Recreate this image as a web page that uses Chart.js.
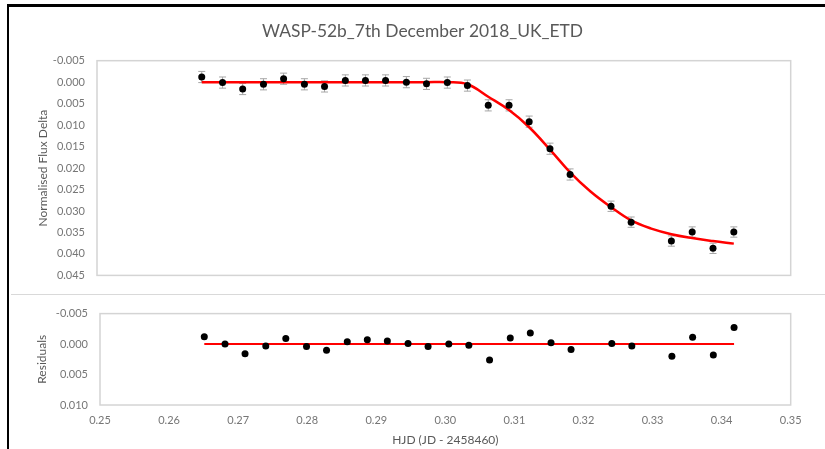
<!DOCTYPE html>
<html>
<head>
<meta charset="utf-8">
<script src="https://cdn.jsdelivr.net/npm/chart.js@4.4.1/dist/chart.umd.min.js"></script>
<style>
body { margin: 0; background: #fff; width: 825px; height: 449px; overflow: hidden; position: relative; }
.frameTop { position: absolute; left: 7px; top: 4px; width: 818px; height: 3px; background: #000; }
.frameLeft { position: absolute; left: 7px; top: 4px; width: 2px; height: 445px; background: #000; }
.split { position: absolute; left: 11px; top: 294px; width: 814px; height: 1px; background: #d9d9d9; }
#lightCurve { position: absolute; left: 15px; top: 8px; }
#residualPlot { position: absolute; left: 10px; top: 295px; }
</style>
</head>
<body>
<div class="frameTop"></div>
<div class="frameLeft"></div>
<div class="split"></div>
<canvas id="lightCurve" width="815" height="286"></canvas>
<canvas id="residualPlot" width="815" height="154"></canvas>
<script>
// observation times (HJD - 2458460)
const hjd = [0.2651, 0.2681, 0.2710, 0.2740, 0.2769, 0.2799, 0.2828, 0.2858, 0.2887, 0.2916,
             0.2946, 0.2975, 0.3005, 0.3034, 0.3064, 0.3094, 0.3123, 0.3153, 0.3182, 0.3241,
             0.3270, 0.3328, 0.3358, 0.3388, 0.3418];
// normalised flux delta + error
const flux = [-0.0012, 0.0001, 0.0016, 0.0005, -0.0008, 0.0005, 0.0010, -0.0004, -0.0004, -0.0004,
              0.0000, 0.0004, 0.0001, 0.0008, 0.0054, 0.0054, 0.0092, 0.0155, 0.0215, 0.0289,
              0.0326, 0.0370, 0.0349, 0.0387, 0.0349];
const fluxErr = [0.0013, 0.0013, 0.0013, 0.0013, 0.0013, 0.0013, 0.0013, 0.0013, 0.0013, 0.0013,
                 0.0013, 0.0013, 0.0013, 0.0013, 0.0013, 0.0013, 0.0013, 0.0013, 0.0013, 0.0012,
                 0.0012, 0.0012, 0.0012, 0.0012, 0.0012];
// fitted model
const modelHjd = [0.2651, 0.2681, 0.2710, 0.2740, 0.2769, 0.2799, 0.2828, 0.2858, 0.2887, 0.2916,
                  0.2946, 0.2975, 0.3005, 0.3034, 0.3064, 0.3094, 0.3123, 0.3153, 0.3182, 0.3211,
                  0.3241, 0.3270, 0.3299, 0.3328, 0.3358, 0.3388, 0.3418];
const modelFlux = [0, 0, 0, 0, 0, 0, 0, 0, 0, 0,
                   0, 0, 0.0000, 0.0005, 0.0034, 0.0065, 0.0105, 0.0157, 0.0210, 0.0254,
                   0.0291, 0.0322, 0.0341, 0.0354, 0.0363, 0.0370, 0.0376];
const residuals = [-0.0012, 0.0000, 0.0016, 0.0003, -0.0009, 0.0004, 0.0010, -0.0004, -0.0007, -0.0005,
                   -0.0001, 0.0004, 0.0000, 0.0002, 0.0026, -0.0010, -0.0018, -0.0002, 0.0009, -0.0001,
                   0.0003, 0.0020, -0.0011, 0.0018, -0.0027];

const hjdTicks = [0.25, 0.26, 0.27, 0.28, 0.29, 0.30, 0.31, 0.32, 0.33, 0.34, 0.35];
const fluxTicks = [-0.005, 0.000, 0.005, 0.010, 0.015, 0.020, 0.025, 0.030, 0.035, 0.040, 0.045];
const residualTicks = [-0.005, 0.000, 0.005, 0.010];

Chart.defaults.font.family = 'Lato, "Open Sans", sans-serif';
Chart.defaults.color = '#767676';
Chart.defaults.animation = false;

const frameBox = {
    id: 'frameBox',
    beforeDatasetsDraw(chart) {
        const { ctx, chartArea: a } = chart;
        ctx.save();
        ctx.strokeStyle = '#d4d4d4';
        ctx.lineWidth = 1.5;
        ctx.strokeRect(a.left, a.top, a.right - a.left, a.bottom - a.top);
        ctx.restore();
    }
};

// 오차막대: 각 점의 위/아래 오차를 회색 선 + 캡으로
const errorBars = {
    id: 'errorBars',
    beforeDatasetsDraw(chart) {
        const { ctx, scales: { x, y } } = chart;
        chart.data.datasets.forEach(ds => {
            if (!ds.errors) return;
            ctx.save();
            ctx.strokeStyle = '#a6a6a6';
            ctx.lineWidth = 1;
            ds.data.forEach((p, i) => {
                const px = x.getPixelForValue(p.x);
                const y1 = y.getPixelForValue(p.y - ds.errors[i]);
                const y2 = y.getPixelForValue(p.y + ds.errors[i]);
                ctx.beginPath();
                ctx.moveTo(px, y1); ctx.lineTo(px, y2);
                ctx.moveTo(px - 3.5, y1); ctx.lineTo(px + 3.5, y1);
                ctx.moveTo(px - 3.5, y2); ctx.lineTo(px + 3.5, y2);
                ctx.stroke();
            });
            ctx.restore();
        });
    }
};

const fixTicks = list => scale => { scale.ticks = list.map(v => ({ value: v })); };

new Chart(document.getElementById('lightCurve').getContext('2d'), {
    type: 'scatter',
    data: {
        datasets: [{
            label: 'Data',
            data: hjd.map((x, i) => ({ x: x, y: flux[i] })),
            errors: fluxErr,
            backgroundColor: '#000',
            borderWidth: 0,
            pointRadius: 3.5
        }, {
            label: 'Model',
            type: 'line',
            data: modelHjd.map((x, i) => ({ x: x, y: modelFlux[i] })),
            borderColor: '#ff0000',
            borderWidth: 2.5,
            pointRadius: 0,
            tension: 0.4,
            fill: false
        }]
    },
    options: {
        responsive: false,
        layout: { padding: { left: 0, right: 0, top: 0, bottom: 15 } },
        plugins: {
            legend: { display: false },
            tooltip: { enabled: false },
            title: {
                display: true,
                text: 'WASP-52b_7th December 2018_UK_ETD',
                color: '#595959',
                font: { size: 17.4, weight: 'normal' },
                padding: { top: 13.3, bottom: 18.5 }
            }
        },
        scales: {
            x: { type: 'linear', display: false, min: 0.25, max: 0.35 },
            y: {
                reverse: true,
                min: -0.005,
                max: 0.045,
                afterBuildTicks: fixTicks(fluxTicks),
                afterFit: s => { s.width = 82; },
                grid: { display: false, drawTicks: false },
                border: { display: false },
                ticks: { padding: 12, font: { size: 11 }, callback: v => v.toFixed(3) },
                title: {
                    display: true,
                    text: 'Normalised Flux Delta',
                    color: '#595959',
                    font: { size: 12 },
                    padding: { top: 20.5, bottom: 0 }
                }
            },
            // empty right margin so the title centres on the whole chart
            yRight: {
                position: 'right',
                reverse: true,
                min: -0.005,
                max: 0.045,
                afterFit: s => { s.width = 39.3; },
                grid: { display: false, drawTicks: false },
                border: { display: false },
                ticks: { display: false }
            }
        }
    },
    plugins: [frameBox, errorBars]
});

new Chart(document.getElementById('residualPlot').getContext('2d'), {
    type: 'scatter',
    data: {
        datasets: [{
            label: 'Residuals',
            data: hjd.map((x, i) => ({ x: x, y: residuals[i] })),
            backgroundColor: '#000',
            borderWidth: 0,
            pointRadius: 3.5
        }, {
            label: 'Zero',
            type: 'line',
            data: hjd.map(x => ({ x: x, y: 0 })),
            borderColor: '#ff0000',
            borderWidth: 2,
            pointRadius: 0,
            fill: false
        }]
    },
    options: {
        responsive: false,
        layout: { padding: { left: 0, right: 34.3, top: 17.3, bottom: 0 } },
        plugins: {
            legend: { display: false },
            tooltip: { enabled: false }
        },
        scales: {
            x: {
                type: 'linear',
                min: 0.25,
                max: 0.35,
                afterBuildTicks: fixTicks(hjdTicks),
                afterFit: s => { s.height = 44; },
                grid: { display: false, drawTicks: false },
                border: { display: false },
                ticks: { padding: 8.4, font: { size: 11 }, maxRotation: 0, callback: v => v.toFixed(2) },
                title: {
                    display: true,
                    text: 'HJD (JD - 2458460)',
                    color: '#595959',
                    font: { size: 12 },
                    padding: { top: 0, bottom: 1.3 }
                }
            },
            y: {
                reverse: true,
                min: -0.005,
                max: 0.010,
                afterBuildTicks: fixTicks(residualTicks),
                afterFit: s => { s.width = 90; },
                grid: { display: false, drawTicks: false },
                border: { display: false },
                ticks: { padding: 12, font: { size: 11 }, callback: v => v.toFixed(3) },
                title: {
                    display: true,
                    text: 'Residuals',
                    color: '#595959',
                    font: { size: 12 },
                    padding: { top: 24.5, bottom: 0 }
                }
            }
        }
    },
    plugins: [frameBox]
});
</script>
</body>
</html>
